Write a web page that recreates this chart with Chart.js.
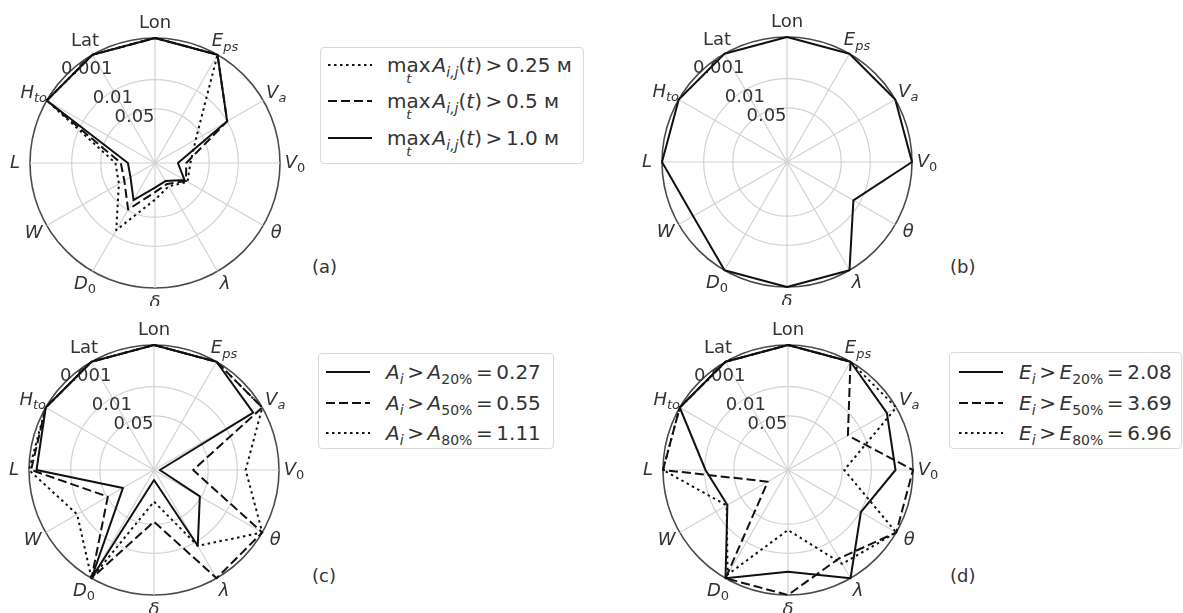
<!DOCTYPE html>
<html>
<head>
<meta charset="utf-8">
<script src="https://cdn.jsdelivr.net/npm/chart.js@4.4.1/dist/chart.umd.min.js"></script>
<style>
  body { margin: 0; background: #fff; font-family: "DejaVu Sans", sans-serif; color: #333; }
  #page { position: relative; width: 1183px; height: 613px; overflow: hidden; }
  canvas.panel { position: absolute; }
  .legend { position: absolute; border: 1px solid #d9d9d9; border-radius: 4px; background: #fff; box-sizing: border-box; }
  .row { position: absolute; left: 0; height: 30px; white-space: nowrap; font-size: 20px; line-height: 30px; }
  .row svg { position: absolute; top: 12px; }
  .row .txt { position: absolute; top: 0; }
  .tag { position: absolute; font-size: 18px; }
  i { font-style: oblique; }
  sub { font-size: 14px; vertical-align: -5px; line-height: 0; }
  .op { margin: 0 0.18em; }
  .mx { position: relative; display: inline-block; margin-right: 2px; }
  .mx .under { position: absolute; left: 50%; transform: translateX(-50%); top: 22px; font-size: 13px; font-style: oblique; line-height: 13px; }
</style>
</head>
<body>
<div id="page">
  <canvas id="chartA" class="panel" width="310" height="306" style="left:0px;top:0px"></canvas>
  <canvas id="chartB" class="panel" width="310" height="306" style="left:632px;top:-1px"></canvas>
  <canvas id="chartC" class="panel" width="310" height="306" style="left:-1px;top:307px"></canvas>
  <canvas id="chartD" class="panel" width="310" height="306" style="left:633px;top:307px"></canvas>
  <div class="tag" style="left:312px;top:256px">(a)</div>
  <div class="tag" style="left:950px;top:256px">(b)</div>
  <div class="tag" style="left:312px;top:565px">(c)</div>
  <div class="tag" style="left:950px;top:565px">(d)</div>
</div>
<script>
// radar axes, clockwise from the top
const axisLabels = ['Lon', 'E_ps', 'V_a', 'V_0', 'θ', 'λ', 'δ', 'D_0', 'W', 'L', 'H_to', 'Lat'];

// radial ticks are p-values, plotted as -log10(p); the outer ring is p = 0.001
const tickPValues = [0.05, 0.01, 0.001];
const tickLabels = ['0.05', '0.01', '0.001'];
const scoreMax = 3;

// values below are -log10(p)

// (a) max_t A_ij(t) thresholds
const aOver025 = [3, 3, 1.13, 0.85, 0.9, 0.65, 0.88, 1.86, 1.0, 0.95, 3, 3];
const aOver05 = [3, 3, 2.0, 0.75, 0.86, 0.58, 0.7, 1.29, 0.85, 0.82, 3, 3];
const aOver10 = [3, 3, 2.0, 0.55, 0.82, 0.5, 0.59, 1.03, 0.68, 0.65, 3, 3];

// (b)
const bScore = [3, 3, 3, 3, 1.84, 3, 3, 3, 2.6, 3, 3, 3];

// (c) A_i above 20 / 50 / 80 % quantile
const cA20 = [3, 3, 2.75, 0.14, 1.27, 2.1, 0.24, 3, 0.86, 2.82, 3, 3];
const cA50 = [3, 3, 3, 0.94, 3, 3, 1.24, 3, 1.28, 2.95, 3, 3];
const cA80 = [3, 3, 3, 2.2, 3, 2.1, 0.76, 3, 2.13, 3, 3, 3];

// (d) E_i above 20 / 50 / 80 % quantile
const dE20 = [3, 3, 2.74, 2.58, 2.02, 3, 2.44, 3, 1.68, 1.98, 3, 3];
const dE50 = [3, 3, 1.66, 3, 3, 2.45, 3, 3, 0.56, 3, 3, 3];
const dE80 = [3, 3, 3, 1.35, 3, 2.6, 1.44, 2.9, 1.7, 3, 3, 3];

const maxA = '<span class="mx">max<span class="under">t</span></span><i>A</i><sub><i>i,j</i></sub>(<i>t</i>)<span class="op">&gt;</span>';
const aLegend = [maxA + '0.25 м', maxA + '0.5 м', maxA + '1.0 м'];
const cLegend = [
    '<i>A</i><sub><i>i</i></sub><span class="op">&gt;</span><i>A</i><sub>20%</sub><span class="op">=</span>0.27',
    '<i>A</i><sub><i>i</i></sub><span class="op">&gt;</span><i>A</i><sub>50%</sub><span class="op">=</span>0.55',
    '<i>A</i><sub><i>i</i></sub><span class="op">&gt;</span><i>A</i><sub>80%</sub><span class="op">=</span>1.11'
];
const dLegend = [
    '<i>E</i><sub><i>i</i></sub><span class="op">&gt;</span><i>E</i><sub>20%</sub><span class="op">=</span>2.08',
    '<i>E</i><sub><i>i</i></sub><span class="op">&gt;</span><i>E</i><sub>50%</sub><span class="op">=</span>3.69',
    '<i>E</i><sub><i>i</i></sub><span class="op">&gt;</span><i>E</i><sub>80%</sub><span class="op">=</span>6.96'
];

const dashes = { solid: [], dashed: [9, 4], dotted: [2.5, 3.5] };
const tickLabelAngles = [24, 33, 36];   // degrees anticlockwise from the top
const textColor = '#333';
const gridColor = '#d2d2d2';

function drawRich(ctx, text, x, y, size) {
    const parts = text.split('_');
    const main = parts[0], sub = parts[1];
    const upright = main === 'Lon' || main === 'Lat';
    const mainFont = (upright ? '' : 'italic ') + size + 'px "DejaVu Sans"';
    const subSize = Math.round(size * 0.7);
    const subFont = (sub && /\d/.test(sub) ? '' : 'italic ') + subSize + 'px "DejaVu Sans"';
    ctx.font = mainFont;
    const w1 = ctx.measureText(main).width;
    let w2 = 0;
    if (sub) { ctx.font = subFont; w2 = ctx.measureText(sub).width; }
    const x0 = x - (w1 + w2) / 2;
    ctx.textAlign = 'left';
    ctx.textBaseline = 'middle';
    ctx.font = mainFont;
    ctx.fillText(main, x0, y);
    if (sub) {
        ctx.font = subFont;
        ctx.fillText(sub, x0 + w1, y + size * 0.32);
    }
}

const radarText = {
    id: 'radarText',
    beforeDatasetsDraw(chart) {
        const scale = chart.scales.r;
        const ctx = chart.ctx;
        ctx.save();
        ctx.fillStyle = textColor;
        ctx.font = '18px "DejaVu Sans"';
        ctx.textAlign = 'center';
        ctx.textBaseline = 'middle';
        tickPValues.forEach((p, i) => {
            const d = scale.getDistanceFromCenterForValue(-Math.log10(p)) * 0.93;
            const pos = scale.getPointPosition(-tickLabelAngles[i] / 30, d);
            ctx.fillText(tickLabels[i], pos.x, pos.y);
        });
        ctx.restore();
    },
    afterDraw(chart) {
        const scale = chart.scales.r;
        const ctx = chart.ctx;
        ctx.save();
        ctx.fillStyle = textColor;
        axisLabels.forEach((label, i) => {
            const pos = scale.getPointPosition(i, scale.drawingArea + 15);
            drawRich(ctx, label, pos.x, pos.y, 18);
        });
        ctx.restore();
    }
};

function makeSet(values, style) {
    return {
        data: values,
        borderColor: '#111',
        borderWidth: 2,
        borderDash: dashes[style],
        borderJoinStyle: 'round',
        pointRadius: 0,
        fill: false,
        tension: 0,
        clip: false
    };
}

function createRadar(canvasId, datasets) {
    const ctx = document.getElementById(canvasId).getContext('2d');
    return new Chart(ctx, {
        type: 'radar',
        data: { labels: axisLabels, datasets: datasets },
        options: {
            responsive: false,
            animation: false,
            layout: { padding: { left: 30, right: 30, top: 38, bottom: 18 } },
            plugins: { legend: { display: false }, tooltip: { enabled: false } },
            scales: {
                r: {
                    min: 0,
                    max: scoreMax,
                    afterBuildTicks: scale => {
                        scale.ticks = [0].concat(tickPValues.map(p => -Math.log10(p))).map(v => ({ value: v }));
                    },
                    ticks: { display: false },
                    pointLabels: { display: false },
                    grid: {
                        circular: true,
                        color: c => (c.tick && c.tick.value >= scoreMax - 1e-6) ? '#4a4a4a' : gridColor,
                        lineWidth: c => (c.tick && c.tick.value >= scoreMax - 1e-6) ? 1.6 : 1.2
                    },
                    angleLines: { color: gridColor, lineWidth: 1.2 }
                }
            }
        },
        plugins: [radarText]
    });
}

createRadar('chartA', [makeSet(aOver10, 'solid'), makeSet(aOver05, 'dashed'), makeSet(aOver025, 'dotted')]);
createRadar('chartB', [makeSet(bScore, 'solid')]);
createRadar('chartC', [makeSet(cA80, 'dotted'), makeSet(cA50, 'dashed'), makeSet(cA20, 'solid')]);
createRadar('chartD', [makeSet(dE80, 'dotted'), makeSet(dE50, 'dashed'), makeSet(dE20, 'solid')]);

function addLegend(box, entries, styles) {
    const page = document.getElementById('page');
    const div = document.createElement('div');
    div.className = 'legend';
    div.style.left = box.left + 'px';
    div.style.top = box.top + 'px';
    div.style.width = box.width + 'px';
    div.style.height = box.height + 'px';
    entries.forEach((html, i) => {
        const row = document.createElement('div');
        row.className = 'row';
        row.style.top = (box.rows[i] - 15) + 'px';
        const dash = dashes[styles[i]].join(' ');
        row.innerHTML = '<svg width="' + (box.sampleLeft + 46) + '" height="6">' +
            '<line x1="' + box.sampleLeft + '" y1="3" x2="' + (box.sampleLeft + 44) + '" y2="3" stroke="#111" stroke-width="2"' +
            (dash ? ' stroke-dasharray="' + dash + '"' : '') + '/></svg>' +
            '<span class="txt" style="left:' + box.textLeft + 'px">' + html + '</span>';
        div.appendChild(row);
    });
    page.appendChild(div);
}

addLegend({ left: 320, top: 47, width: 264, height: 117, rows: [17, 53, 90], sampleLeft: 7, textLeft: 66 },
    aLegend, ['dotted', 'dashed', 'solid']);
addLegend({ left: 318, top: 353, width: 236, height: 96, rows: [18, 49, 79], sampleLeft: 7, textLeft: 67 },
    cLegend, ['solid', 'dashed', 'dotted']);
addLegend({ left: 949, top: 352, width: 233, height: 97, rows: [19, 50, 80], sampleLeft: 9, textLeft: 69 },
    dLegend, ['solid', 'dashed', 'dotted']);
</script>
</body>
</html>
